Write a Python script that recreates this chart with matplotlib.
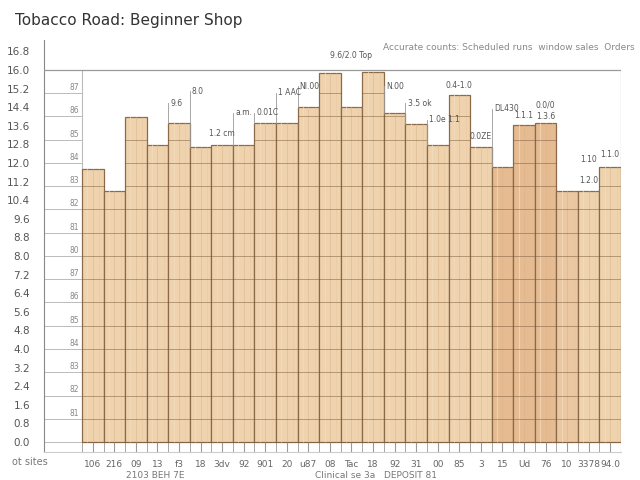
import matplotlib
matplotlib.use("Agg")
import matplotlib.pyplot as plt
import numpy as np

# ---- data ----
values = [11.74, 10.8, 13.98, 12.77, 13.72, 12.69, 12.77, 12.77, 13.72, 13.72,
          14.41, 15.87, 14.41, 15.91, 14.15, 13.68, 12.77, 14.92, 12.69, 11.83,
          13.63, 13.72, 10.8, 10.8, 11.83]
x_labels = ["106", "216", "09", "13", "f3", "18", "3dv", "92", "901", "20",
            "u87", "08", "Tac", "18", "92", "31", "00", "85", "3", "15",
            "Ud", "76", "10", "3378", "94.0"]
y_outer_ticks = [round(0.8 * i, 1) for i in range(22)]
y_outer_labels = [f"{v:.1f}" for v in y_outer_ticks]
grid_levels = list(range(0, 17))
title = "Tobacco Road: Beginner Shop"
subtitle = "Accurate counts: Scheduled runs  window sales  Orders"
# annotations: (bar index, label)
ann_index = [4, 5, 6, 7, 8, 9, 10, 12, 14, 15, 16, 17, 18, 19, 20, 21, 21, 23, 23, 24]
ann_text = ["9.6", "8.0", "1.2 cm", "a.m.", "0.01C", "1 AAC", "Nl.00", "9.6/2.0 Top",
            "N.00", "3.5 ok", "1.0e 1.1", "0.4-1.0", "0.0ZE", "DL430", "1.1.1",
            "1.3.6", "0.0/0", "1.2.0", "1.10", "1.1.0"]
# layout offsets for annotation heights (style, not data)
ann_offset = [0.86, 2.4, 0.3, 1.4, 0.45, 1.3, 0.9, 0.55, 1.15, 0.9, 1.1, 0.2,
              0.25, 2.5, 0.2, 0.1, 0.6, 0.25, 1.15, 0.35]
ann_leader = [True, True, False, True, True, True, True, False, True, True, True,
              False, False, True, False, False, False, False, False, False]

bar_colors = ['#EFD3AE'] * 25
for i in (19, 20, 21):
    bar_colors[i] = '#E6BB92'
bar_colors[22] = '#EBC8A2'

fig = plt.figure(figsize=(6.4, 4.8), dpi=100)
ax = fig.add_axes([44/640, (480-452)/480, (621-44)/640, (452-40)/480])

x = np.arange(len(values))
ax.bar(x, values, width=1.0, color=bar_colors, edgecolor='#8A6A48',
       linewidth=0.9, zorder=2)
# wood grain: faint inner lines
for xi, v in zip(x, values):
    ax.plot([xi, xi], [0, v], color='#D9B48A', lw=0.6, zorder=2.5, alpha=0.6)
    ax.plot([xi - 0.25, xi - 0.25], [0, v], color='#F5E0C2', lw=0.8, zorder=2.5, alpha=0.6)
    ax.plot([xi + 0.3, xi + 0.3], [0, v], color='#E2C198', lw=0.5, zorder=2.5, alpha=0.5)

ax.set_xlim(-2.26, 24.5)
ax.set_ylim(-0.43, 17.29)

# grid lines: gray in left margin, brown across bars
for g in grid_levels:
    ax.plot([-2.26, -0.5], [g, g], color='#BBBBBB', lw=0.7, zorder=1)
    for xi, v in zip(x, values):
        if g < v - 0.05:
            ax.plot([xi - 0.5, xi + 0.5], [g, g], color='#7A5A3A', lw=0.7,
                    alpha=0.5, zorder=3)
    if 0 < g < 16:
        ax.text(-0.65, g + 0.05, f"{80 + g % 8}", fontsize=5.5, color='#888888',
                ha='right', va='bottom', zorder=4)
# top frame line and right line
ax.plot([-2.26, 24.5], [16, 16], color='#999999', lw=0.9, zorder=3)
ax.plot([24.5, 24.5], [-0.43, 16], color='#BBBBBB', lw=0.9, zorder=3)
ax.plot([-0.5, -0.5], [values[0], 16], color='#BBBBBB', lw=0.8, zorder=1)

for side in ('top', 'right'):
    ax.spines[side].set_visible(False)
ax.spines['left'].set_color('#888888')
ax.spines['bottom'].set_color('#CCCCCC')

ax.set_yticks(y_outer_ticks)
ax.set_yticklabels(y_outer_labels, fontsize=7.5, color='#555555')
ax.tick_params(axis='y', length=0, pad=10)
ax.set_xticks(x)
ax.set_xticklabels(x_labels, fontsize=6.5, color='#666666')
ax.set_xticks(x - 0.5, minor=True)
ax.tick_params(axis='x', which='both', direction='in', length=8, color='#999999', pad=6)

# annotations with leader lines
for idx, lab, off, lead in zip(ann_index, ann_text, ann_offset, ann_leader):
    v = values[idx]
    top = v + off
    if idx == 12:
        ax.text(idx, 16.45, lab, fontsize=5.5, color='#555555', ha='center',
                va='bottom', zorder=5)
        continue
    if lead:
        ax.plot([idx - 0.5, idx - 0.5], [v, top], color='#999999', lw=0.6, zorder=4)
        ax.text(idx - 0.4, top, lab, fontsize=5.5, color='#555555', ha='left',
                va='center', zorder=5)
    else:
        ax.text(idx, top, lab, fontsize=5.5, color='#555555', ha='center',
                va='bottom', zorder=5)

fig.text(15/640, 1 - 20/480, title, fontsize=11, color='#333333', ha='left', va='center')
fig.text(635/640, 1 - 47/480, subtitle, fontsize=6.5, color='#888888', ha='right', va='center')
fig.text(30/640, 1 - 462/480, "ot sites", fontsize=7, color='#777777', ha='center', va='center')
fig.text(155/640, 1 - 476/480, "2103 BEH 7E", fontsize=6.5, color='#777777', ha='center', va='center')
fig.text(345/640, 1 - 476/480, "Clinical se 3a", fontsize=6.5, color='#777777', ha='center', va='center')
fig.text(410/640, 1 - 476/480, "DEPOSIT 81", fontsize=6.5, color='#777777', ha='center', va='center')

fig.savefig("out.png", dpi=100)
